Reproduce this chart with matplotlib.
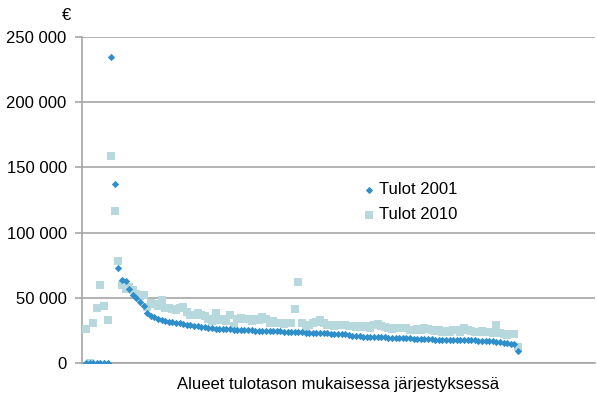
import numpy as np
import matplotlib
matplotlib.use("Agg")
import matplotlib.pyplot as plt
from matplotlib.ticker import FuncFormatter

# incomes per area, areas ordered by income level
tulot_2001 = [
    0, 0, 0, 0, 0, 0, 0, 235000, 137000, 73000,
    64000, 63000, 57000, 52000, 49500, 47000, 44000, 38000, 36000, 35000,
    34000, 33200, 32500, 31800, 31300, 30800, 30300, 29900, 29400, 29000,
    28600, 28200, 27800, 27400, 27000, 26700, 26400, 26100, 26000, 25800,
    25700, 25600, 25400, 25300, 25200, 25100, 25000, 24900, 24800, 24700,
    24600, 24500, 24400, 24300, 24200, 24100, 24000, 23900, 23800, 23600,
    23400, 23300, 23200, 23100, 23000, 22900, 22800, 22700, 22600, 22500,
    22400, 22200, 22000, 21500, 21000, 20600, 20400, 20300, 20200, 20100,
    20000, 19900, 19800, 19600, 19400, 19300, 19200, 19100, 19000, 18900,
    18800, 18700, 18600, 18500, 18300, 18200, 18100, 18000, 17900, 17800,
    17800, 17700, 17700, 17600, 17600, 17500, 17400, 17400, 17300, 17200,
    17100, 17000, 16800, 16500, 16300, 16000, 15700, 15300, 14800, 14200,
    9000,
]
tulot_2010 = [
    26000, 0, 31000, 42000, 59500, 43500, 33000, 158500, 116500, 78000,
    60000, 57000, 58000, 56000, 53000, 51000, 52000, 43000, 46000, 45000,
    44000, 48000, 42000, 42500, 41500, 40500, 42000, 43000, 39000, 37000,
    36500, 38000, 37000, 36000, 33500, 32500, 38000, 33000, 34000, 32000,
    36500, 28000, 34000, 34500, 33500, 34000, 32500, 34000, 33000, 35500,
    34000, 31000, 32000, 30500, 31000, 30000, 30500, 30500, 41300, 61800,
    30500, 26500, 29500, 30500, 31500, 33000, 31000, 29000, 29000, 28000,
    29000, 29500, 29000, 28500, 28000, 27500, 28000, 27500, 28000, 27000,
    29000, 30000, 28000, 27500, 26500, 26000, 26500, 27000, 27000, 26500,
    25500, 25000, 26000, 25500, 26500, 26000, 25000, 24500, 25000, 24000,
    24500, 24000, 25500, 25000, 24000, 27000, 25500, 24500, 23500, 24000,
    24500, 23500, 23500, 23000, 29000, 23000, 22000, 21500, 22500, 22000,
    12500,
]
y_ticks = [0, 50000, 100000, 150000, 200000, 250000]

plt.rcParams['font.family'] = ['Liberation Sans', 'DejaVu Sans']

grid_col = '#a6a6a6'
blue = '#2f8fcb'
light = '#b7d9dd'

fig = plt.figure(figsize=(5.97, 3.94), dpi=100)
ax = fig.add_axes([82 / 597, 31 / 394, 513 / 597, 326 / 394])

x = np.arange(len(tulot_2001))
sq = ax.scatter(x, tulot_2010, marker='s', s=34, color=light, linewidths=0, zorder=3)
dm = ax.scatter(x, tulot_2001, marker='D', s=14, color=blue, linewidths=0, zorder=4)

ax.set_xlim(-1.1, 141.4)
ax.set_ylim(0, 250000)
ax.set_yticks(y_ticks)
ax.yaxis.set_major_formatter(FuncFormatter(lambda v, p: '{:,}'.format(int(v)).replace(',', ' ')))
ax.set_xticks([])
ax.tick_params(axis='y', length=5, width=1.2, color=grid_col, labelsize=12, pad=6)
ax.grid(axis='y', color=grid_col, linewidth=1.2, zorder=0)
ax.set_axisbelow(True)
for s in ['top', 'right']:
    ax.spines[s].set_visible(False)
for s in ['left', 'bottom']:
    ax.spines[s].set_color(grid_col)
    ax.spines[s].set_linewidth(1.2)

ax.set_xlabel('Alueet tulotason mukaisessa järjestyksessä', fontsize=12, labelpad=10)
fig.text(67 / 597, 1 - 15 / 394, '€', fontsize=12, ha='center', va='center')

ax.legend([dm, sq], ['Tulot 2001', 'Tulot 2010'], loc='upper left',
          bbox_to_anchor=(0.53, 0.575), frameon=False, fontsize=12,
          handletextpad=0.1, labelspacing=0.6, borderaxespad=0,
          markerscale=1.0, handlelength=1.0)

fig.savefig('out.png', dpi=100)
